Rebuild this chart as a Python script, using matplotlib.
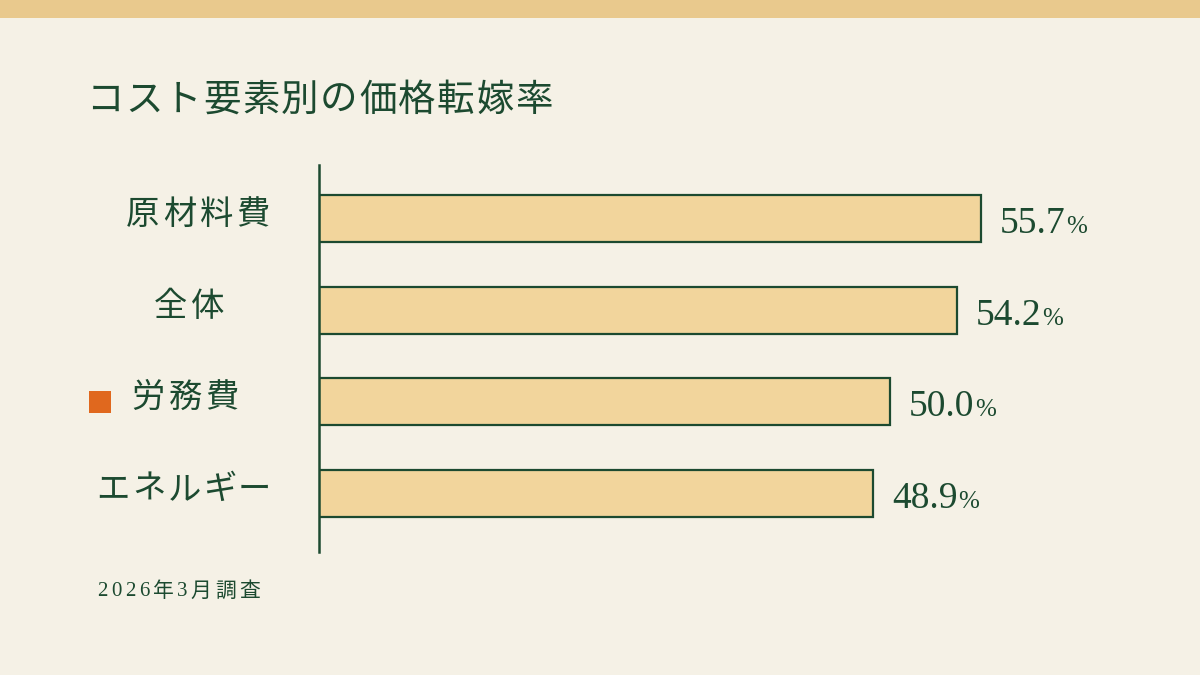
import matplotlib
matplotlib.use('Agg')
import matplotlib.pyplot as plt
from matplotlib.patches import Rectangle
from matplotlib.transforms import IdentityTransform

# データ
categories = ['原材料費', '全体', '労務費', 'エネルギー']
values = [55.7, 54.2, 50.0, 48.9]
highlight = '労務費'
title = 'コスト要素別の価格転嫁率'
note = '2026年3月調査'

BG = '#F5F1E6'
BAND = '#E9C98D'
GREEN = '#1C4A30'
BAR = '#F2D59C'
ORANGE = '#E0681E'

JP = ['Noto Sans CJK JP', 'DejaVu Sans']
SERIF = ['Liberation Serif', 'Noto Sans CJK JP', 'DejaVu Sans']
plt.rcParams['font.family'] = JP

W, H = 1200, 675
fig = plt.figure(figsize=(12, 6.75), dpi=100, facecolor=BG)
renderer = fig.canvas.get_renderer()


def spaced_text(x, y, s, gap, ha='left', **kw):
    # 字間をあけて1文字ずつ置く (x, y はピクセル, 左下原点)
    arts = [fig.text(0, 0, ch, transform=IdentityTransform(), ha='left', va='center', **kw)
            for ch in s]
    widths = [a.get_window_extent(renderer).width for a in arts]
    total = sum(widths) + gap * (len(s) - 1)
    x0 = x - total / 2 if ha == 'center' else x
    for a, w in zip(arts, widths):
        a.set_position((x0, y))
        x0 += w + gap


# 上の帯
fig.patches.append(Rectangle((0, 1 - 18 / H), 1, 18 / H, transform=fig.transFigure,
                             facecolor=BAND, edgecolor='none', zorder=0))

ax = fig.add_axes([319 / W, 1 - 552 / H, (1100 - 319) / W, (552 - 165) / H])
ax.set_facecolor('none')

ypos = list(range(len(categories)))
ax.barh(ypos, values, height=0.513, color=BAR, edgecolor=GREEN, linewidth=1.6, zorder=2)
ax.set_xlim(14.0, 63.2)
ax.set_ylim(3.638, -0.584)

for s in ['top', 'right', 'bottom']:
    ax.spines[s].set_visible(False)
ax.spines['left'].set_color(GREEN)
ax.spines['left'].set_linewidth(1.8)
ax.set_xticks([])
ax.set_yticks([])

# カテゴリラベル
label_x = [198, 189, 185, 184]
label_gap = [3.5, 3.5, 3.5, 2.0]
for i, (c, lx, g) in enumerate(zip(categories, label_x, label_gap)):
    yp = ax.transData.transform((0, i))[1] + 4
    spaced_text(lx, yp, c, g, ha='center', fontsize=24, color=GREEN, family=JP)
    if c == highlight:
        fig.patches.append(Rectangle((89 / W, 1 - 413 / H), 22 / W, 22 / H,
                                     transform=fig.transFigure, facecolor=ORANGE,
                                     edgecolor='none'))

# 値ラベル
for i, v in enumerate(values):
    t = ax.annotate(f'{v:.1f}', xy=(v, i), xytext=(13.5, -10.5), textcoords='offset points',
                    ha='left', va='baseline', fontsize=27, color=GREEN, family=SERIF)
    w = t.get_window_extent(renderer).width * 72 / fig.dpi
    ax.annotate('%', xy=(v, i), xytext=(13.5 + w + 0.5, -10.5), textcoords='offset points',
                ha='left', va='baseline', fontsize=18, color=GREEN, family=SERIF)

spaced_text(86, H - 100, title, 1.5, fontsize=27, color=GREEN, family=JP)
spaced_text(97, H - 592, note, 3.5, fontsize=15, color=GREEN, family=SERIF)

fig.savefig('out.png', dpi=100, facecolor=BG)
